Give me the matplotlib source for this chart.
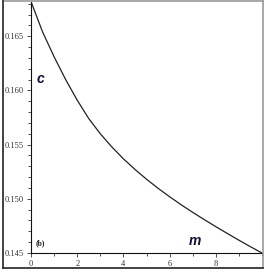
import matplotlib
matplotlib.use("Agg")
import matplotlib.pyplot as plt
from matplotlib.lines import Line2D
from matplotlib.ticker import MultipleLocator

m_vals = [0, 0.5, 1, 1.5, 2, 2.5, 3, 3.5, 4, 4.5, 5, 5.5, 6, 6.5, 7, 7.5, 8, 8.5, 9, 9.5, 10]
c_vals = [0.1682, 0.1654, 0.1631, 0.1610, 0.1591, 0.15740, 0.15600, 0.15478, 0.15369,
          0.15271, 0.15181, 0.15097, 0.15019, 0.14945, 0.14875, 0.14808, 0.14743,
          0.14680, 0.14618, 0.14558, 0.1450]
x_ticks = [0, 2, 4, 6, 8]
y_ticks = [0.145, 0.150, 0.155, 0.160, 0.165]
y_tick_labels = ["0.145", "0.150", "0.155", "0.160", "0.165"]

W, H = 266, 273
fig = plt.figure(figsize=(W / 100, H / 100), dpi=100)

def fx(px):
    return px / W

def fy(py):
    return 1 - py / H

ax = fig.add_axes([fx(31), fy(253), fx(262) - fx(31), fy(1.5) - fy(253)])
ax.plot(m_vals, c_vals, color="#222222", lw=0.9)
ax.set_xlim(0, 10)
ax.set_ylim(0.145, 0.1682)
for s in ["top", "right"]:
    ax.spines[s].set_visible(False)
for s in ["left", "bottom"]:
    ax.spines[s].set_linewidth(0.8)
    ax.spines[s].set_color("#111111")

ax.set_xticks(x_ticks)
ax.set_xticklabels([str(v) for v in x_ticks])
ax.set_yticks(y_ticks)
ax.set_yticklabels(y_tick_labels)
ax.xaxis.set_minor_locator(MultipleLocator(1))
ax.yaxis.set_minor_locator(MultipleLocator(0.001))
ax.tick_params(which="major", length=3, width=0.6, color="#333333", pad=2,
               labelsize=6, labelcolor="#333333")
ax.tick_params(which="minor", length=2, width=0.6, color="#333333")
for lab in ax.get_xticklabels() + ax.get_yticklabels():
    lab.set_fontfamily("Liberation Serif")

fig.text(fx(37), fy(79), "c", fontsize=10, fontweight="bold", fontstyle="italic",
         family="Liberation Sans", color="#10103a", ha="left", va="center")
fig.text(fx(189), fy(241), "m", fontsize=10, fontweight="bold", fontstyle="italic",
         family="Liberation Sans", color="#10103a", ha="left", va="center")
fig.text(fx(36), fy(243), "(b)", fontsize=5.5, fontweight="bold",
         family="Liberation Serif", color="#222222", ha="left", va="center")

# outer frame
fig.add_artist(Line2D([fx(2.5), fx(263)], [fy(1), fy(1)], transform=fig.transFigure, color="#999999", lw=1.2))
fig.add_artist(Line2D([fx(263), fx(263)], [fy(1), fy(268)], transform=fig.transFigure, color="#999999", lw=1.2))
fig.add_artist(Line2D([fx(2.5), fx(2.5)], [fy(1), fy(268)], transform=fig.transFigure, color="#222222", lw=1.2))
fig.add_artist(Line2D([fx(2.5), fx(263)], [fy(268), fy(268)], transform=fig.transFigure, color="#222222", lw=1.2))

fig.savefig("out.png", dpi=100)
